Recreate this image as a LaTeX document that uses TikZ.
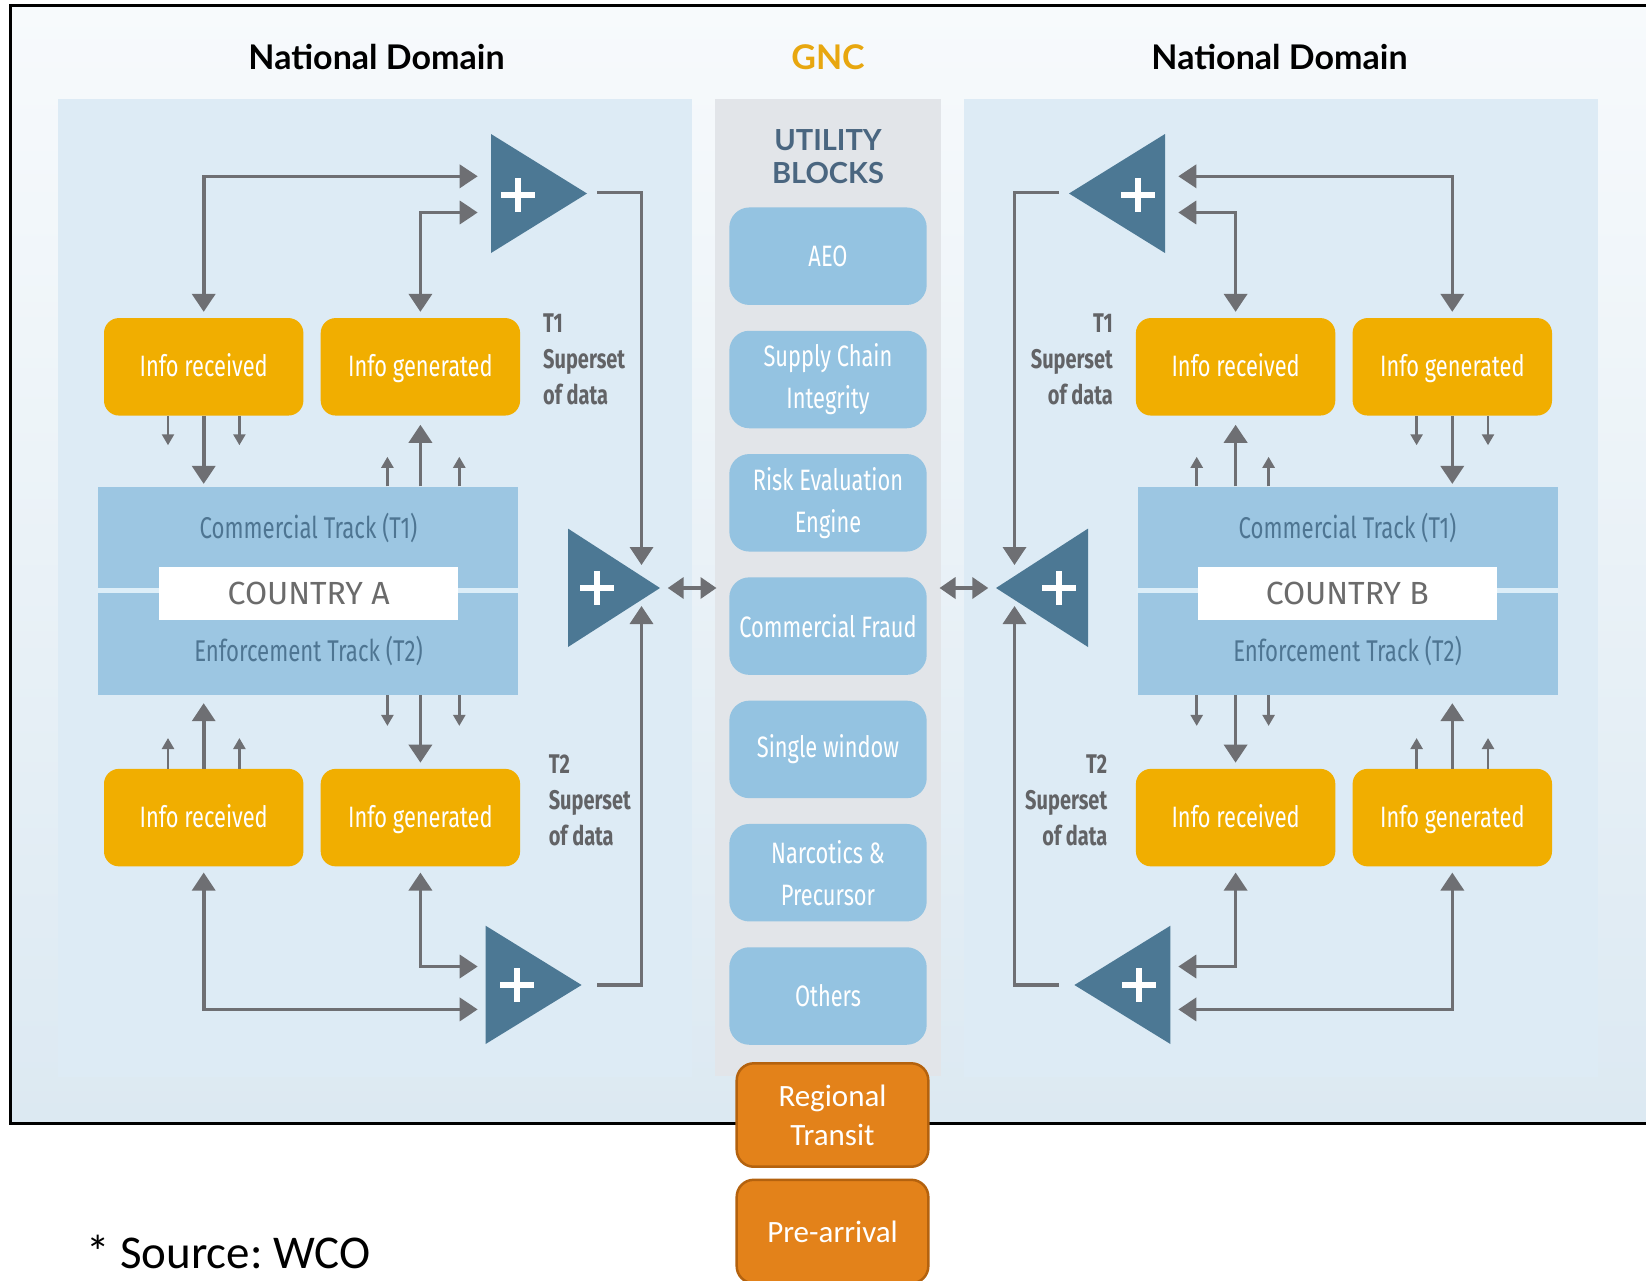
\documentclass[tikz,border=0pt]{standalone}
\usepackage{fontspec}
\setmainfont{Carlito}
\newfontfamily\titlef{Lato}
\newfontfamily\condf[FakeStretch=0.74]{Fira Sans}
\newfontfamily\plainf{Fira Sans}
\usetikzlibrary{arrows.meta}
\frenchspacing

\definecolor{bgtop}{HTML}{F7FAFC}
\definecolor{bgbot}{HTML}{DCE9F2}
\definecolor{panel}{HTML}{DDEBF5}
\definecolor{midgray}{HTML}{E2E5E9}
\definecolor{utilblue}{HTML}{94C3E1}
\definecolor{countryblue}{HTML}{9CC6E2}
\definecolor{countrytext}{HTML}{4E7592}
\definecolor{countryline}{HTML}{DDEEF8}
\definecolor{infoorange}{HTML}{F1AE00}
\definecolor{tri}{HTML}{4C7894}
\definecolor{arrowgray}{HTML}{6E6F73}
\definecolor{labelgray}{HTML}{626366}
\definecolor{gold}{HTML}{E8A70F}
\definecolor{utiltitle}{HTML}{4A6680}
\definecolor{orangebox}{HTML}{E3821A}
\definecolor{orangeborder}{HTML}{B4620E}

\tikzset{
  infobox/.style={rounded corners=15pt, fill=infoorange, minimum width=199.4pt,
    minimum height=97.5pt, inner sep=0pt, text=white, text height=22pt, text depth=2pt,
    font={\condf\fontsize{29.5}{34}\selectfont}},
  utilbox/.style={rounded corners=20pt, fill=utilblue, minimum width=197.4pt,
    minimum height=97.5pt, inner sep=0pt, text=white, align=center,
    font={\condf\fontsize{29.5}{42}\selectfont}},
  countrybox/.style={fill=countryblue, minimum width=420pt, minimum height=208.4pt, inner sep=0pt},
  countrylinestyle/.style={draw=countryline, line width=5pt},
  countrylabel/.style={fill=white, minimum width=299pt, minimum height=52.7pt, inner sep=0pt,
    text=black!58, font={\plainf\fontsize{32}{36}\selectfont}},
  tracktext/.style={anchor=base, inner sep=0pt, text=countrytext,
    font={\condf\fontsize{30}{36}\selectfont}},
  sidelabel/.style={inner sep=0pt, text=labelgray, font={\condf\bfseries\fontsize{27}{36}\selectfont}},
  trifill/.style={fill=tri},
  plus/.style={minimum size=34pt, inner sep=0pt,
    path picture={\draw[white, line width=6.5pt]
      (path picture bounding box.north) -- (path picture bounding box.south)
      (path picture bounding box.west) -- (path picture bounding box.east);}},
  bigarrow/.style={draw=arrowgray, line width=3.6pt, >={Triangle[length=18pt,width=23pt]}},
  midarrow/.style={draw=arrowgray, line width=3.6pt, >={Triangle[length=16pt,width=21pt]}},
  smallarrow/.style={draw=arrowgray, line width=2.5pt, >={Triangle[length=11pt,width=12pt]}},
  titletext/.style={inner sep=0pt, font={\titlef\bfseries\fontsize{34}{40}\selectfont}},
  obox/.style={rounded corners=17pt, fill=orangebox, draw=orangeborder, line width=2.5pt,
    minimum width=191.6pt, minimum height=103.4pt, inner sep=0pt, text=white, align=center,
    font={\fontsize{31}{39}\selectfont}}
}

\newcommand\X[1]{\O+\M*(#1)}

\newcommand\drawside[6]{%
  \node[infobox] (#1o1) at ({\X{203.7}},366.8) {#2};
  \node[infobox] (#1i1) at ({\X{420.4}},366.8) {#3};
  \node[infobox] (#1o2) at ({\X{203.7}},817.6) {#2};
  \node[infobox] (#1i2) at ({\X{420.4}},817.6) {#3};
  \node[countrybox] (#1c) at ({\X{308.4}},590.8) {};
  \draw[countrylinestyle] (#1c.west) -- (#1c.east);
  \node[countrylabel] (#1cl) at ({\X{308.7}},593.6) {#4};
  \node[tracktext] (#1ct) at ({\X{308.5}},538.3) {Commercial Track (T1)};
  \node[tracktext] (#1et) at ({\X{308.5}},661.7) {Enforcement Track (T2)};
  \node[sidelabel, anchor=#5, align=#6] (#1l1) at ({\X{543}},314) {T1\\Superset\\of data};
  \node[sidelabel, anchor=#5, align=#6] (#1l2) at ({\X{548.6}},755) {T2\\Superset\\of data};
  \fill[trifill] ({\X{491}},134) -- ({\X{491}},253) -- ({\X{587}},193.5) -- cycle;
  \fill[trifill] ({\X{568}},528.6) -- ({\X{568}},647) -- ({\X{660}},588) -- cycle;
  \fill[trifill] ({\X{485.6}},925.7) -- ({\X{485.6}},1044) -- ({\X{581.6}},985) -- cycle;
  \node[plus] (#1pt) at ({\X{518}},195) {};
  \node[plus] (#1pm) at ({\X{597}},588) {};
  \node[plus] (#1pb) at ({\X{517}},985) {};
  \coordinate (#1tin1) at ({\X{477.7}},176.3);
  \coordinate (#1tin2) at ({\X{477.7}},212.5);
  \coordinate (#1tout) at ({\X{597}},192.5);
  \coordinate (#1mtop) at ({\X{641.5}},565);
  \coordinate (#1mbot) at ({\X{641.5}},606);
  \coordinate (#1bout) at ({\X{597}},985);
  \coordinate (#1bin1) at ({\X{477.7}},966.5);
  \coordinate (#1bin2) at ({\X{477.7}},1009.4);
  \coordinate (#1mout) at ({\X{667.7}},588);
  \coordinate (#1gnc) at ({\X{716.5}},588);
  \draw[bigarrow,<->] ([yshift=6pt]#1o1.north) |- (#1tin1);
  \draw[bigarrow,<->] ([yshift=6pt]#1i1.north) |- (#1tin2);
  \draw[bigarrow,->] (#1tout) -| (#1mtop);
  \draw[bigarrow,->] (#1bout) -| (#1mbot);
  \draw[bigarrow,<->] ([yshift=-6pt]#1o2.south) |- (#1bin2);
  \draw[bigarrow,<->] ([yshift=-6pt]#1i2.south) |- (#1bin1);
  \draw[midarrow,<->] (#1mout) -- (#1gnc);
  \draw[bigarrow,->,shorten >=2.5pt] (#1o1.south) -- (#1o1.south |- #1c.north);
  \draw[bigarrow,->,shorten >=9pt] (#1i1.south |- #1c.north) -- (#1i1.south);
  \draw[bigarrow,->,shorten >=8pt] (#1o2.north) -- (#1o2.north |- #1c.south);
  \draw[bigarrow,->,shorten >=6pt] (#1i2.north |- #1c.south) -- (#1i2.north);
  \draw[smallarrow,->] ({\X{168}},0 |- #1o1.south) -- ++(0,29.5);
  \draw[smallarrow,->] ({\X{239.4}},0 |- #1o1.south) -- ++(0,29.5);
  \draw[smallarrow,->] ({\X{387.4}},0 |- #1c.north) -- ++(0,-29.6);
  \draw[smallarrow,->] ({\X{459.3}},0 |- #1c.north) -- ++(0,-29.6);
  \draw[smallarrow,->] ({\X{168}},0 |- #1o2.north) -- ++(0,-30.6);
  \draw[smallarrow,->] ({\X{239.4}},0 |- #1o2.north) -- ++(0,-30.6);
  \draw[smallarrow,->] ({\X{387.4}},0 |- #1c.south) -- ++(0,30.7);
  \draw[smallarrow,->] ({\X{459.3}},0 |- #1c.south) -- ++(0,30.7);
}

\begin{document}
\begin{tikzpicture}[x=1pt,y=-1pt]
\useasboundingbox (0,0) rectangle (1646,1280);
\fill[white] (0,0) rectangle (1646,1280);
% frame background
\shade[top color=bgtop, bottom color=bgbot] (10.5,5.5) rectangle (1646,1123.5);
% panels
\fill[panel] (57.7,99.2) rectangle (692,1077);
\fill[midgray] (714.5,99.2) rectangle (940.5,1076);
\fill[panel] (963.7,99.2) rectangle (1598.3,1077);
% frame line
\draw[black, line width=2.5pt] (1646,5.5) -- (10.5,5.5) -- (10.5,1123.5) -- (1646,1123.5);

% titles
\node[titletext] (nd1) at (376.5,57) {National Domain};
\node[titletext, text=gold] (gnc) at (828,57) {GNC};
\node[titletext] (nd2) at (1279.5,57) {National Domain};
\node[inner sep=0pt, align=center, text=utiltitle, font={\titlef\bfseries\fontsize{29}{33}\selectfont}] (ub) at (828,157) {UTILITY\\BLOCKS};

% utility blocks
\foreach \t [count=\i from 0] in {AEO, {Supply Chain\\Integrity}, {Risk Evaluation\\Engine},
    Commercial Fraud, Single window, {Narcotics \&\\Precursor}, Others}
  \node[utilbox] (u\i) at (828,{256.2+123.3*\i}) {\t};

% sides
\def\M{1}\def\O{0}
\drawside{a}{Info received}{Info generated}{COUNTRY A}{north west}{left}
\def\M{(-1)}\def\O{1656}
\drawside{b}{Info generated}{Info received}{COUNTRY B}{north east}{right}

% orange boxes
\node[obox] (rt) at (832.5,1115) {Regional\\Transit};
\node[obox] (pa) at (832.5,1231.5) {Pre-arrival};

% source
\node[anchor=base west, inner sep=0pt, font={\fontsize{47}{54}\selectfont}] (src) at (86,1268) {* Source: WCO};
\end{tikzpicture}
\end{document}
